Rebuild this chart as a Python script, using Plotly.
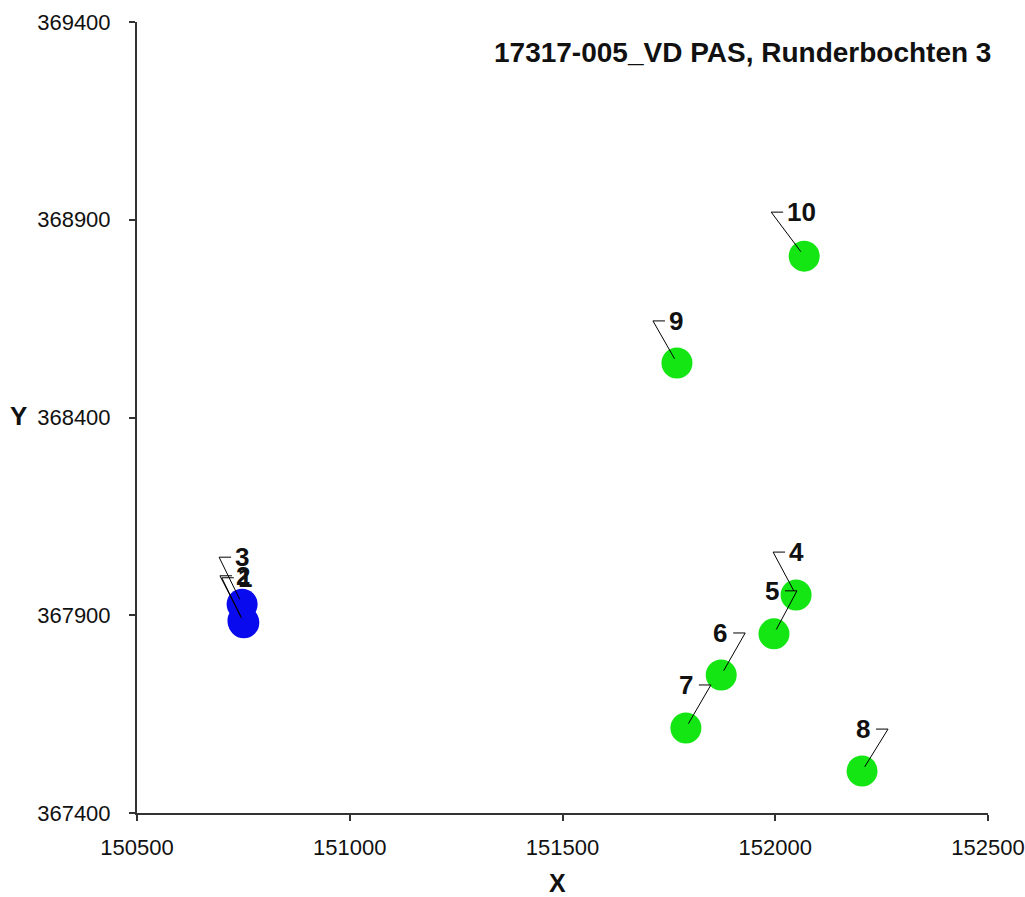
import plotly.graph_objects as go

# ---- data ----
point_ids = ["1", "2", "3", "4", "5", "6", "7", "8", "9", "10"]
x_vals = [150751, 150749, 150747, 152049, 151997, 151873, 151790, 152204, 151769, 152068]
y_vals = [367881, 367886, 367928, 367951, 367853, 367749, 367615, 367506, 368538, 368808]
groups = ["A", "A", "A", "B", "B", "B", "B", "B", "B", "B"]
title_text = "17317-005_VD PAS, Runderbochten 3"
x_ticks = [150500, 151000, 151500, 152000, 152500]
y_ticks = [367400, 367900, 368400, 368900, 369400]

# ---- style ----
group_colors = {"A": "#0a0aee", "B": "#14e614"}
# label elbow offsets in pixels (dx, dy up) relative to marker centre
label_dx = [-22, -23, -23, -23, 23, 24, 25, 26, -24, -33]
label_dy = [45, 45, 47, 43, 43, 42, 43, 42, 42, 44]

W, H = 1025, 897
ML, MR, MT, MB = 137, 37, 22, 84
PW, PH = W - ML - MR, H - MT - MB
xr = [x_ticks[0], x_ticks[-1]]
yr = [y_ticks[0], y_ticks[-1]]
sx = PW / (xr[1] - xr[0])
sy = PH / (yr[1] - yr[0])

fig = go.Figure()

for g in ["A", "B"]:
    idx = [i for i, gg in enumerate(groups) if gg == g]
    fig.add_trace(go.Scatter(
        x=[x_vals[i] for i in idx], y=[y_vals[i] for i in idx],
        mode="markers",
        marker=dict(size=31, color=group_colors[g], line=dict(width=0)),
        showlegend=False, hoverinfo="skip"))

# leader lines
lx, ly = [], []
seg = 12
for i in range(len(point_ids)):
    px, py = x_vals[i], y_vals[i]
    ex = px + label_dx[i] / sx
    ey = py + label_dy[i] / sy
    s = 1 if label_dx[i] > 0 else -1
    hx = ex - s * seg / sx
    tx = px + 0.1 * (ex - px)
    ty = py + 0.1 * (ey - py)
    lx += [tx, ex, hx, None]
    ly += [ty, ey, ey, None]
fig.add_trace(go.Scatter(x=lx, y=ly, mode="lines",
                         line=dict(color="black", width=1),
                         showlegend=False, hoverinfo="skip"))

annotations = []
for i, t in enumerate(point_ids):
    s = 1 if label_dx[i] > 0 else -1
    gap = 4 if s > 0 else 2
    annotations.append(dict(
        x=x_vals[i], y=y_vals[i], xref="x", yref="y", text="<b>" + t + "</b>",
        showarrow=False,
        xshift=label_dx[i] - s * (seg + gap),
        yshift=label_dy[i],
        xanchor="right" if s > 0 else "left", yanchor="middle",
        font=dict(family="Liberation Sans, Arial", size=26, color="#111111"),
    ))

annotations.append(dict(
    x=(993 - ML) / PW, y=(H - MB - 52) / PH, xref="paper", yref="paper",
    text="<b>" + title_text + "</b>", showarrow=False,
    xanchor="right", yanchor="middle",
    font=dict(family="Liberation Sans, Arial", size=28, color="#111111")))
annotations.append(dict(
    x=(557 - ML) / PW, y=(H - MB - 883) / PH, xref="paper", yref="paper",
    text="<b>X</b>", showarrow=False, xanchor="center", yanchor="middle",
    font=dict(family="Liberation Sans, Arial", size=25, color="#111111")))
annotations.append(dict(
    x=(18 - ML) / PW, y=(H - MB - 416) / PH, xref="paper", yref="paper",
    text="<b>Y</b>", showarrow=False, xanchor="center", yanchor="middle",
    font=dict(family="Liberation Sans, Arial", size=26, color="#111111")))

tickfont = dict(family="Liberation Sans, Arial", size=22, color="#111111")
axis_common = dict(showgrid=False, zeroline=False, showline=True, linecolor="#333333",
                   linewidth=2, ticks="outside", ticklen=6, tickwidth=1.5,
                   tickcolor="#333333", tickfont=tickfont, automargin=False)

fig.update_layout(
    width=W, height=H,
    margin=dict(l=ML, r=MR, t=MT, b=MB, pad=0),
    paper_bgcolor="white", plot_bgcolor="white",
    xaxis=dict(range=xr, tickvals=x_ticks, ticktext=[str(v) for v in x_ticks],
               ticklabelstandoff=8, **axis_common),
    yaxis=dict(range=yr, tickvals=y_ticks, ticktext=[str(v) for v in y_ticks],
               ticklabelstandoff=14, **axis_common),
    xaxis2=dict(range=xr, overlaying="x", anchor="y", side="bottom", tickvals=x_ticks,
                ticks="inside", ticklen=6, tickwidth=1.5, tickcolor="#333333",
                showticklabels=False, showgrid=False, zeroline=False, showline=False),
    yaxis2=dict(range=yr, overlaying="y", anchor="x", side="left", tickvals=y_ticks,
                ticks="inside", ticklen=6, tickwidth=1.5, tickcolor="#333333",
                showticklabels=False, showgrid=False, zeroline=False, showline=False),
    annotations=annotations,
)

fig.write_html("out.html", config={"displayModeBar": False},
               post_script="document.body.style.margin='0';document.body.style.overflow='hidden';")
